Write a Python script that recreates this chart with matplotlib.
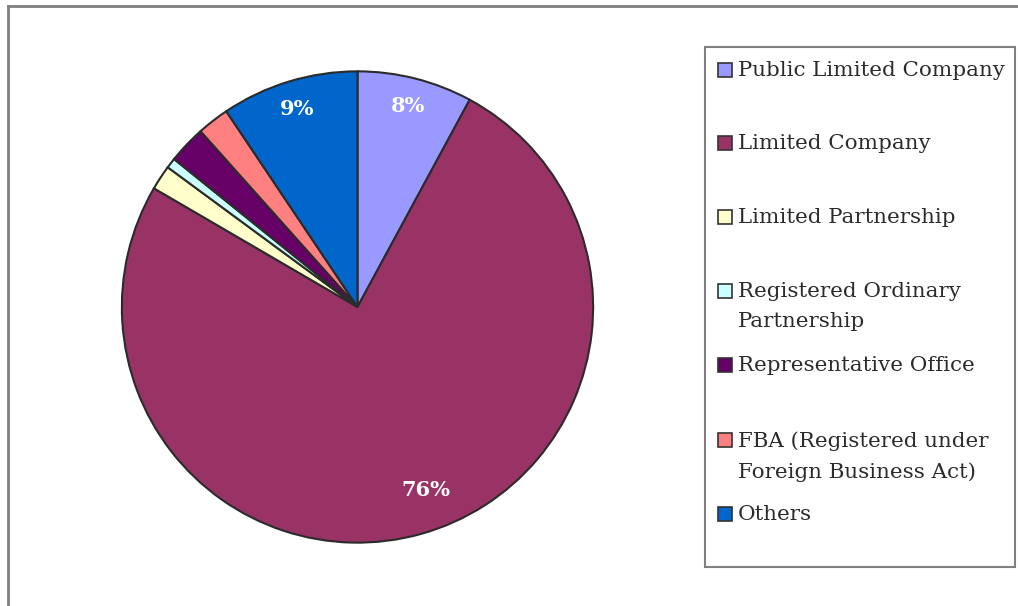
import matplotlib
matplotlib.use("Agg")
import matplotlib.pyplot as plt
from matplotlib.patches import Rectangle
from matplotlib.lines import Line2D

# Business registrations by legal form (share, %)
categories = [
    "Public Limited Company",
    "Limited Company",
    "Limited Partnership",
    "Registered Ordinary\nPartnership",
    "Representative Office",
    "FBA (Registered under\nForeign Business Act)",
    "Others",
]
shares = [7.9, 75.5, 1.7, 0.7, 2.6, 2.2, 9.4]
colors = ["#9999FF", "#993366", "#FFFFCC", "#CCFFFF", "#660066", "#FF8080", "#0066CC"]

W, H = 1018, 606
fig = plt.figure(figsize=(W / 100, H / 100), dpi=100)
fig.patch.set_facecolor("white")

serif = ["DejaVu Serif"]

# pie centred at (357, 307) px, radius ~238 px
ax = fig.add_axes([119.5 / W, 1 - 545 / H, 476 / W, 476 / H])
wedges, _, autotexts = ax.pie(
    shares,
    colors=colors,
    startangle=90,
    counterclock=False,
    autopct=lambda p: f"{p:.0f}%" if p >= 5 else "",
    pctdistance=0.88,
    wedgeprops=dict(edgecolor="#2b2b2b", linewidth=1.5),
    textprops=dict(color="white", fontsize=15, fontweight="bold", family=serif),
)
# the big slice's label sits a little further round towards the right
autotexts[1].set_position((0.29, -0.775))
ax.set_xlim(-1.01, 1.01)
ax.set_ylim(-1.01, 1.01)
ax.set_aspect("equal")
ax.axis("off")

# outer chart frame (top and left edges only)
frame_kw = dict(color="#808080", linewidth=2, transform=fig.transFigure)
fig.add_artist(Line2D([7.5 / W, 1], [1 - 5.5 / H, 1 - 5.5 / H], **frame_kw))
fig.add_artist(Line2D([7.5 / W, 7.5 / W], [0, 1 - 5.5 / H], **frame_kw))

# legend box drawn by hand so wrapped labels hang from the first line
fig.add_artist(Rectangle((705 / W, 1 - 567 / H), 310 / W, 520 / H,
                         transform=fig.transFigure, facecolor="white",
                         edgecolor="#808080", linewidth=1.5))
row_y = [70, 143, 217, 291, 365, 440, 514]
for label, color, y in zip(categories, colors, row_y):
    fig.add_artist(Rectangle((718 / W, 1 - (y + 7) / H), 14 / W, 14 / H,
                             transform=fig.transFigure, facecolor=color,
                             edgecolor="#333333", linewidth=1.2))
    fig.text(738 / W, 1 - (y - 9) / H, label, ha="left", va="top",
             fontsize=15.4, family=serif, color="#2b2b2b", linespacing=1.75)

fig.savefig("out.png", dpi=100, facecolor="white")
